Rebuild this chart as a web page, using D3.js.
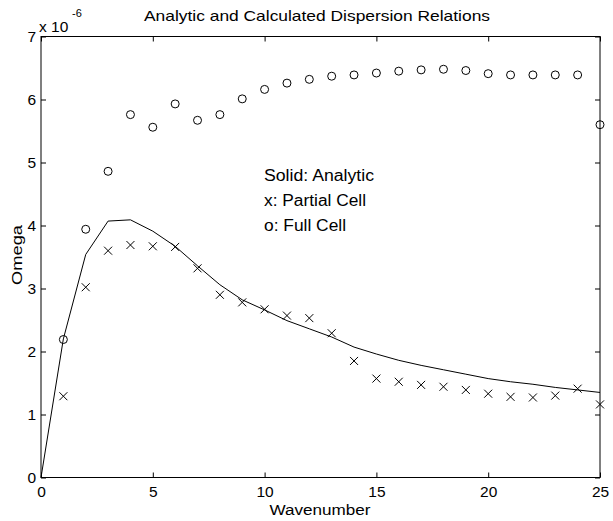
<!DOCTYPE html>
<html><head><meta charset="utf-8">
<script src="https://cdn.jsdelivr.net/npm/d3@7"></script>
<style>body{margin:0;background:#fff}svg{display:block}text{font-family:"Liberation Sans",Arial,sans-serif;fill:#000}</style>
</head><body>
<svg id="c" width="613" height="521"></svg>
<script>
const wavenumber = [0,1,2,3,4,5,6,7,8,9,10,11,12,13,14,15,16,17,18,19,20,21,22,23,24,25];
const analytic = [0,2.2,3.54,4.07,4.09,3.91,3.67,3.36,3.06,2.82,2.66,2.49,2.36,2.23,2.07,1.96,1.86,1.78,1.71,1.64,1.57,1.52,1.48,1.43,1.39,1.35];
const markerK = [1,2,3,4,5,6,7,8,9,10,11,12,13,14,15,16,17,18,19,20,21,22,23,24,25];
const partialCell = [1.29,3.02,3.6,3.69,3.67,3.66,3.32,2.9,2.78,2.67,2.57,2.53,2.29,1.85,1.57,1.52,1.47,1.44,1.39,1.33,1.28,1.27,1.3,1.41,1.16];
const fullCell = [2.19,3.94,4.86,5.76,5.56,5.93,5.67,5.76,6.01,6.16,6.26,6.32,6.37,6.39,6.42,6.45,6.47,6.48,6.46,6.41,6.39,6.39,6.39,6.39,5.6];
const xTicks = [0,5,10,15,20,25];
const yTicks = [0,1,2,3,4,5,6,7];
const legendLines = ["Solid: Analytic","x: Partial Cell","o: Full Cell"];
const legendWidths = [110,102,82];

const svg = d3.select("#c");
const L=41,R=600,T=36.5,B=477.5;
const x = d3.scaleLinear().domain([0,25]).range([L,R]);
const y = d3.scaleLinear().domain([0,7]).range([B,T]);

svg.append("rect").attr("x",L).attr("y",T).attr("width",R-L).attr("height",B-T)
  .attr("fill","none").attr("stroke","#000").attr("stroke-width",1);

const tl=5;
const xb = d3.axisBottom(x).tickValues(xTicks).tickSizeInner(-tl).tickSizeOuter(0).tickPadding(8).tickFormat(d3.format("d"));
const xt = d3.axisTop(x).tickValues(xTicks).tickSizeInner(-tl).tickSizeOuter(0).tickFormat("");
const yl = d3.axisLeft(y).tickValues(yTicks).tickSizeInner(-tl).tickSizeOuter(0).tickPadding(5).tickFormat(d3.format("d"));
const yr = d3.axisRight(y).tickValues(yTicks).tickSizeInner(-tl).tickSizeOuter(0).tickFormat("");
function style(g){g.select(".domain").remove();g.selectAll("line").attr("stroke","#000");g.selectAll("text").attr("font-size",15.5).attr("font-family","Liberation Sans, Arial, sans-serif");}
svg.append("g").attr("transform",`translate(0,${B})`).call(xb).call(style);
svg.append("g").attr("transform",`translate(0,${T})`).call(xt).call(style);
svg.append("g").attr("transform",`translate(${L},0)`).call(yl).call(style);
svg.append("g").attr("transform",`translate(${R},0)`).call(yr).call(style);

svg.append("path").datum(wavenumber.map((k,i)=>[k,analytic[i]]))
  .attr("fill","none").attr("stroke","#000").attr("stroke-width",1)
  .attr("d",d3.line().x(d=>x(d[0])).y(d=>y(d[1])));

const s=4;
svg.append("g").selectAll("path").data(markerK.map((k,i)=>[k,partialCell[i]])).join("path")
  .attr("d",d=>{const cx=x(d[0]),cy=y(d[1]);return `M${cx-s},${cy-s}L${cx+s},${cy+s}M${cx-s},${cy+s}L${cx+s},${cy-s}`;})
  .attr("stroke","#000").attr("stroke-width",1).attr("fill","none");

svg.append("g").selectAll("circle").data(markerK.map((k,i)=>[k,fullCell[i]])).join("circle")
  .attr("cx",d=>x(d[0])).attr("cy",d=>y(d[1])).attr("r",4)
  .attr("fill","none").attr("stroke","#000").attr("stroke-width",1);

svg.append("text").attr("x",317).attr("y",21).attr("text-anchor","middle").attr("font-size",15)
  .attr("textLength",346).attr("lengthAdjust","spacingAndGlyphs")
  .text("Analytic and Calculated Dispersion Relations");
svg.append("text").attr("x",320).attr("y",515).attr("text-anchor","middle").attr("font-size",15.5)
  .attr("textLength",101).attr("lengthAdjust","spacingAndGlyphs")
  .text("Wavenumber");
svg.append("text").attr("transform","translate(21.5,255) rotate(-90)").attr("text-anchor","middle").attr("font-size",15.5)
  .attr("textLength",60).attr("lengthAdjust","spacingAndGlyphs")
  .text("Omega");
const ex = svg.append("text").attr("x",39).attr("y",31.5).attr("font-size",15.5);
ex.append("tspan").text("x 10");
ex.append("tspan").attr("x",72).attr("y",17).attr("font-size",11).text("-6");

svg.append("g").selectAll("text").data(legendLines).join("text")
  .attr("x",264).attr("y",(d,i)=>181+i*25).attr("font-size",16)
  .attr("textLength",(d,i)=>legendWidths[i]).attr("lengthAdjust","spacingAndGlyphs").text(d=>d);
</script>
</body></html>
